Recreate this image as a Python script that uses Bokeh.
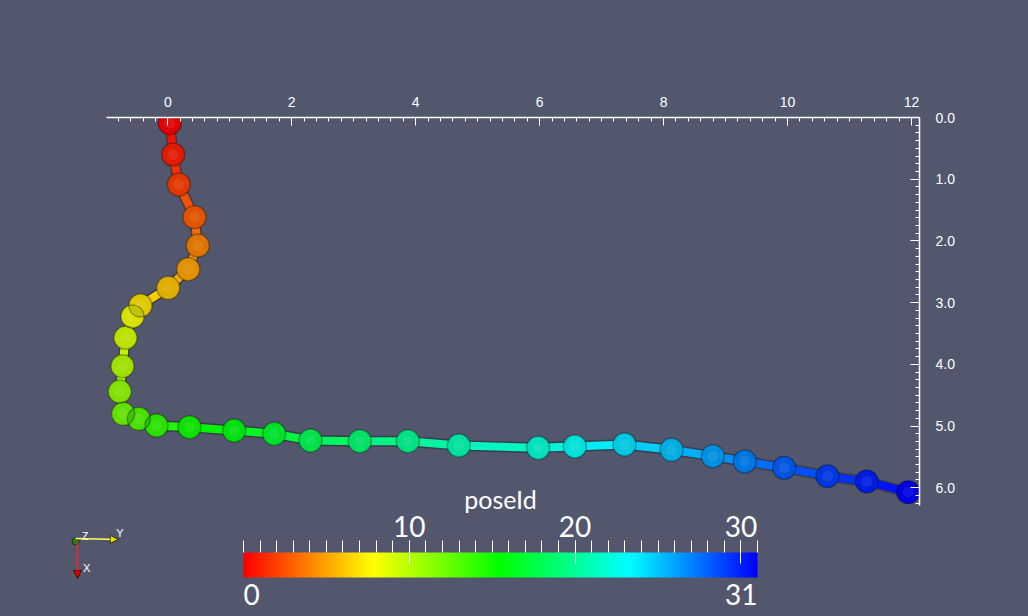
import colorsys
from bokeh.plotting import figure
from bokeh.models import (ColumnDataSource, Range1d, SingleIntervalTicker, FixedTicker,
                          NumeralTickFormatter, ColorBar, LinearColorMapper, Arrow, NormalHead,
                          Label)
from bokeh.transform import transform
from bokeh.core.properties import value
from bokeh.embed import file_html
from bokeh.resources import INLINE

# ---------------- data ----------------
pose_id = list(range(32))
pos_x = [0.032, 0.087, 0.178, 0.431, 0.484, 0.329, 0.006, -0.441, -0.570, -0.683,
         -0.731, -0.775, -0.720, -0.468, -0.182, 0.350, 1.071, 1.717, 2.303, 3.098,
         3.873, 4.696, 5.977, 6.568, 7.370, 8.128, 8.795, 9.311, 9.947, 10.646,
         11.280, 11.948]
pos_y = [0.092, 0.600, 1.086, 1.616, 2.075, 2.459, 2.760, 3.047, 3.225, 3.570,
         4.031, 4.441, 4.802, 4.883, 4.992, 5.019, 5.073, 5.126, 5.235, 5.246,
         5.246, 5.316, 5.353, 5.332, 5.300, 5.386, 5.489, 5.575, 5.677, 5.813,
         5.899, 6.073]
cb_title = "poseId"
cb_major_ticks = [10, 20, 30]
cb_range_labels = [0, 31]

# orientation triad (decoration), in plot units
triad_origin = (-1.489, 6.872)
triad_y_end = (-0.80, 6.84)
triad_x_end = (-1.457, 7.47)
triad_labels = ["Z", "Y", "X"]
triad_label_x = [-1.39, -0.83, -1.37]
triad_label_y = [6.79, 6.74, 7.30]

BG = "#52576e"
FONT_AX = "Liberation Sans"
FONT_CB = "Lato"
W, H = 1028, 616
CB_LEFT, CB_WIDTH = 243, 514      # colour bar placement (screen px)

# rainbow (HSV hue 0 -> 240 deg)
palette = []
for i in range(256):
    r, g, b = colorsys.hsv_to_rgb((240.0 / 360.0) * i / 255.0, 1.0, 1.0)
    palette.append("#%02x%02x%02x" % (round(r * 255), round(g * 255), round(b * 255)))
mapper = LinearColorMapper(palette=palette, low=min(pose_id), high=max(pose_id))

p = figure(width=W, height=H, output_backend="svg", toolbar_location=None,
           x_range=Range1d(-2.6997, 12.1301), y_range=Range1d(8.0875, 0),
           x_axis_location="above", y_axis_location="right",
           background_fill_color=BG, border_fill_color=BG, outline_line_color=None,
           min_border_left=0, min_border_right=109, min_border_top=117, min_border_bottom=0)
p.xgrid.grid_line_color = None
p.ygrid.grid_line_color = None

xa = p.xaxis[0]
xa.ticker = SingleIntervalTicker(interval=2, num_minor_ticks=10)
xa.bounds = (-0.99, 12.13)
ya = p.yaxis[0]
ya.ticker = SingleIntervalTicker(interval=1, num_minor_ticks=8)
ya.bounds = (0, 6.29)
ya.formatter = NumeralTickFormatter(format="0.0")
for ax, tin, std in ((xa, 8, 11), (ya, 9, 16)):
    ax.axis_line_color = "white"
    ax.axis_line_width = 1.5
    ax.major_tick_line_color = "white"
    ax.minor_tick_line_color = "white"
    ax.major_tick_in = tin
    ax.major_tick_out = 0
    ax.minor_tick_in = 4
    ax.minor_tick_out = 0
    ax.major_label_text_color = "white"
    ax.major_label_text_font = FONT_AX
    ax.major_label_text_font_size = "14px"
    ax.major_label_standoff = std

# tube segments
seg = ColumnDataSource(dict(x0=pos_x[:-1], y0=pos_y[:-1], x1=pos_x[1:], y1=pos_y[1:],
                            v=[i + 0.5 for i in pose_id[:-1]]))
p.segment("x0", "y0", "x1", "y1", source=seg, line_color="black", line_alpha=0.3,
          line_width=11)
p.segment("x0", "y0", "x1", "y1", source=seg, line_color=transform("v", mapper),
          line_width=8, line_alpha=0.95)

# spheres
pts = ColumnDataSource(dict(x=pos_x, y=pos_y, pid=pose_id))
p.scatter("x", "y", source=pts, size=23, fill_color=transform("pid", mapper),
          line_color=None)
p.scatter("x", "y", source=pts, size=23, fill_color="black", fill_alpha=0.12,
          line_color="black", line_alpha=0.3, line_width=1.5)
p.scatter("x", "y", source=pts, size=11, fill_color="white", fill_alpha=0.08,
          line_color=None)

# orientation triad
p.add_layout(Arrow(x_start=triad_origin[0], y_start=triad_origin[1] - 0.05,
                   x_end=triad_y_end[0], y_end=triad_y_end[1],
                   line_color="#ffff60", line_width=1.5,
                   end=NormalHead(size=8, fill_color="#e6e600", line_color="#333300")))
p.add_layout(Arrow(x_start=triad_x_end[0], y_start=triad_origin[1],
                   x_end=triad_x_end[0], y_end=triad_x_end[1],
                   line_color="#ff2020", line_width=1.5,
                   end=NormalHead(size=8, fill_color="#dd0000", line_color="#550000")))
p.scatter([triad_origin[0]], [triad_origin[1]], size=7, fill_color="#1f7a1f",
          line_color="#0c3a0c")
p.text(triad_label_x, triad_label_y, text=triad_labels, text_color="white",
       text_font=value(FONT_AX), text_font_size="11px", text_align="left",
       text_baseline="middle")

# colour bar pieces (ParaView scalar-bar look)
common = dict(color_mapper=mapper, orientation="horizontal", width=CB_WIDTH, padding=0,
              margin=0, background_fill_alpha=0, border_line_color=None, bar_line_color=None,
              major_label_text_color="white", major_label_text_font=FONT_CB)
cb_main = ColorBar(location=(CB_LEFT, 39), height=25, ticker=FixedTicker(ticks=[]),
                   major_tick_in=0, major_tick_out=0, minor_tick_in=0, minor_tick_out=0,
                   major_label_text_font_size="1px", major_label_text_alpha=0,
                   label_standoff=0, **common)
cb_ticks = ColorBar(location=(CB_LEFT, 53), height=12, scale_alpha=0,
                    ticker=FixedTicker(ticks=cb_major_ticks, minor_ticks=pose_id),
                    major_tick_in=12, major_tick_out=11, minor_tick_in=12, minor_tick_out=0,
                    major_tick_line_color="white", minor_tick_line_color="white",
                    major_label_text_font_size="1px", major_label_text_alpha=0,
                    label_standoff=0, **common)
cb_labels = ColorBar(location=(CB_LEFT, 77), height=1, scale_alpha=0,
                     ticker=FixedTicker(ticks=cb_major_ticks),
                     major_tick_in=0, major_tick_out=0, minor_tick_in=0, minor_tick_out=0,
                     major_label_text_font_size="28px", label_standoff=0, **common)
for cb in (cb_main, cb_ticks, cb_labels):
    p.add_layout(cb)

# title and range labels of the scalar bar (screen units from the frame's bottom-left)
p.add_layout(Label(x=CB_LEFT + CB_WIDTH / 2, y=H - 498, x_units="screen", y_units="screen",
                   text=cb_title, text_color="white", text_font=FONT_CB,
                   text_font_size="25px", text_align="center", text_baseline="alphabetic"))
for v, align, sx in ((cb_range_labels[0], "left", CB_LEFT),
                     (cb_range_labels[1], "right", CB_LEFT + CB_WIDTH)):
    p.add_layout(Label(x=sx, y=H - 594, x_units="screen", y_units="screen",
                       text=str(v), text_color="white", text_font=FONT_CB,
                       text_font_size="28px", text_align=align,
                       text_baseline="alphabetic"))

html = file_html(p, INLINE)
html = html.replace("<head>", "<head><style>html,body{background:%s;}</style>" % BG, 1)
open("out.html", "w").write(html)
